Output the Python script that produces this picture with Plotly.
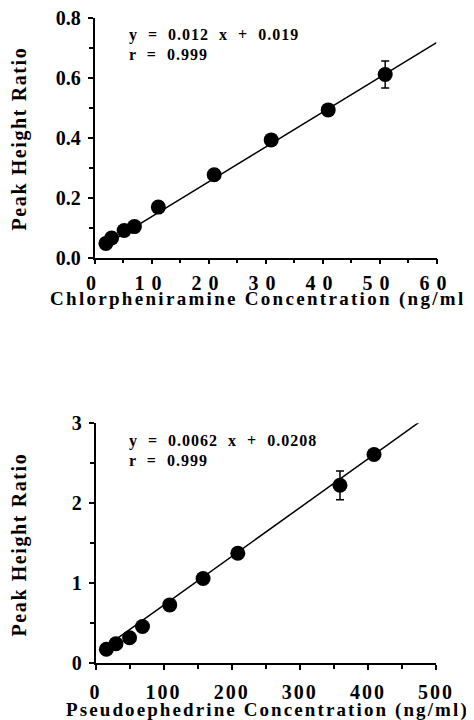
import plotly.graph_objects as go

# ---- data ----
chlor_conc = [2, 3, 5.2, 7, 11.2, 21, 31, 41, 51]
chlor_ratio = [0.047, 0.065, 0.090, 0.103, 0.168, 0.276, 0.392, 0.492, 0.610]
chlor_err = [None, None, None, None, None, None, None, None, 0.045]
chlor_fit_x = [2, 60]
chlor_fit_y = [0.043, 0.716]

pse_conc = [16, 30, 50, 69, 109, 158, 209, 359, 409]
pse_ratio = [0.175, 0.245, 0.320, 0.460, 0.730, 1.060, 1.375, 2.225, 2.610]
pse_err = [None, None, None, None, None, None, None, 0.18, None]
pse_fit_x = [9, 478]
pse_fit_y = [0.17, 3.03]

chlor_xticks = [0, 10, 20, 30, 40, 50, 60]
chlor_yticks = [0.0, 0.2, 0.4, 0.6, 0.8]
pse_xticks = [0, 100, 200, 300, 400, 500]
pse_yticks = [0, 1, 2, 3]

W, H = 474, 720
OFF = 8  # page body margin
FONT = "Liberation Serif"


def px(x):
    return (x - OFF) / W


def py(y):
    return 1 - (y - OFF) / H


def sp(text, ls):
    return f"<span style='letter-spacing:{ls}px'>{text}</span>"


fig = go.Figure()

# top panel
fig.add_trace(go.Scatter(x=chlor_fit_x, y=chlor_fit_y, mode="lines",
                         line=dict(color="black", width=1.5),
                         xaxis="x", yaxis="y", showlegend=False, hoverinfo="skip"))
fig.add_trace(go.Scatter(x=chlor_conc, y=chlor_ratio, mode="markers",
                         marker=dict(color="black", size=15),
                         error_y=dict(type="data", array=chlor_err, color="black",
                                      thickness=1.5, width=4),
                         xaxis="x", yaxis="y", showlegend=False))
# bottom panel
fig.add_trace(go.Scatter(x=pse_fit_x, y=pse_fit_y, mode="lines",
                         line=dict(color="black", width=1.5),
                         xaxis="x2", yaxis="y2", showlegend=False, hoverinfo="skip"))
fig.add_trace(go.Scatter(x=pse_conc, y=pse_ratio, mode="markers",
                         marker=dict(color="black", size=15),
                         error_y=dict(type="data", array=pse_err, color="black",
                                      thickness=1.5, width=4),
                         xaxis="x2", yaxis="y2", showlegend=False))

axis_common = dict(showgrid=False, zeroline=False, showline=True, linecolor="black",
                   linewidth=1.5, ticks="outside", ticklen=5, tickwidth=1.5,
                   tickcolor="black", automargin=False, ticklabeloverflow="allow",
                   tickfont=dict(family=FONT, size=20, color="black"))

fig.update_layout(
    width=W, height=H,
    margin=dict(l=0, r=0, t=0, b=0),
    paper_bgcolor="white", plot_bgcolor="white",
    font=dict(family=FONT, color="black"),
    xaxis=dict(domain=[px(94.5), px(436.5)], range=[0, 60], anchor="y",
               tickmode="array", tickvals=chlor_xticks,
               ticktext=[sp(f"<b>{v}</b>", 7) for v in chlor_xticks],
               minor=dict(dtick=5, ticks="outside", ticklen=4, tickwidth=1.5, tickcolor="black"),
               ticklabelstandoff=2,
               **axis_common),
    yaxis=dict(domain=[py(257.5), py(17.5)], range=[0, 0.8], anchor="x",
               tickmode="array", tickvals=chlor_yticks,
               ticktext=[f"<b>{v:.1f}</b>" for v in chlor_yticks],
               minor=dict(dtick=0.1, ticks="outside", ticklen=4, tickwidth=1.5, tickcolor="black"),
               ticklabelstandoff=3,
               **axis_common),
    xaxis2=dict(domain=[px(95.5), px(436)], range=[0, 500], anchor="y2",
                tickmode="array", tickvals=pse_xticks,
                ticktext=[sp(f"<b>{v}</b>", 2) for v in pse_xticks],
                minor=dict(dtick=50, ticks="outside", ticklen=4, tickwidth=1.5, tickcolor="black"),
                ticklabelstandoff=5,
                **axis_common),
    yaxis2=dict(domain=[py(663.3), py(423.3)], range=[0, 3], anchor="x2",
                tickmode="array", tickvals=pse_yticks,
                ticktext=[f"<b>{v}</b>" for v in pse_yticks],
                minor=dict(dtick=0.5, ticks="outside", ticklen=4, tickwidth=1.5, tickcolor="black"),
                ticklabelstandoff=3,
                **axis_common),
)

annots = [
    # axis titles
    dict(text=sp("<b>Peak Height Ratio</b>", 1.6), x=px(18.5), y=py(139), textangle=-90,
         font=dict(size=20)),
    dict(text=sp("<b>Peak Height Ratio</b>", 1.6), x=px(18.5), y=py(545), textangle=-90,
         font=dict(size=20)),
    dict(text=sp("<b>Chlorpheniramine Concentration (ng/ml)</b>", 2.3), x=px(262), y=py(299),
         font=dict(size=19)),
    dict(text=sp("<b>Pseudoephedrine Concentration (ng/ml)</b>", 2.1), x=px(267), y=py(710),
         font=dict(size=19)),
    # equations
    dict(text=sp("<b>y  =  0.012  x  +  0.019</b>", 1), x=px(127), y=py(35), xanchor="left",
         font=dict(size=16)),
    dict(text=sp("<b>r  =  0.999</b>", 1), x=px(127), y=py(54), xanchor="left",
         font=dict(size=16)),
    dict(text=sp("<b>y  =  0.0062  x  +  0.0208</b>", 1), x=px(127), y=py(441), xanchor="left",
         font=dict(size=16)),
    dict(text=sp("<b>r  =  0.999</b>", 1), x=px(127), y=py(460), xanchor="left",
         font=dict(size=16)),
]
for a in annots:
    a.setdefault("xanchor", "center")
    a.update(xref="paper", yref="paper", yanchor="middle", showarrow=False)
    a["font"] = dict(family=FONT, color="black", **a["font"])
    fig.add_annotation(**a)

fig.write_html("out.html")
